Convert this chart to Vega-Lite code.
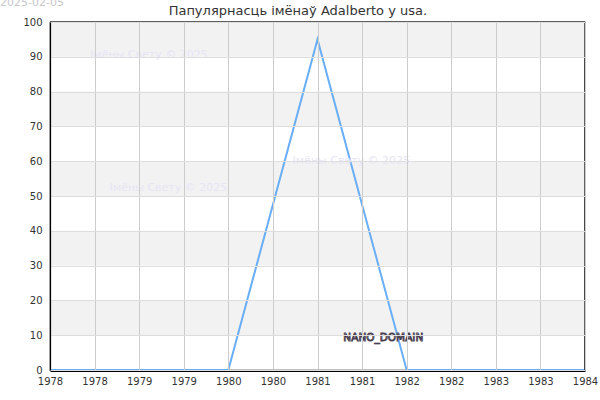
{
  "$schema": "https://vega.github.io/schema/vega-lite/v6.json",
  "width": 535,
  "height": 348,
  "padding": {"left": 50, "top": 22, "right": 15, "bottom": 30},
  "autosize": {"type": "none"},
  "background": "white",
  "config": {
    "font": "DejaVu Sans",
    "view": {"stroke": "black", "strokeWidth": 1.2},
    "axis": {"labelFont": "DejaVu Sans", "labelFontSize": 10, "labelColor": "#333", "ticks": false, "domainColor": "black", "domainWidth": 1.2, "labelOverlap": false, "labelFlush": false}
  },
  "datasets": {
    "series": [
      {"year": 1978, "value": 0},
      {"year": 1979, "value": 0},
      {"year": 1980, "value": 0},
      {"year": 1981, "value": 95},
      {"year": 1982, "value": 0},
      {"year": 1983, "value": 0},
      {"year": 1984, "value": 0}
    ],
    "bands": [
      {"lo": 10, "hi": 20},
      {"lo": 30, "hi": 40},
      {"lo": 50, "hi": 60},
      {"lo": 70, "hi": 80},
      {"lo": 90, "hi": 100}
    ],
    "marks": [
      {"x": 1978.45, "y": 90.5, "label": "Імёны Свету © 2025"},
      {"x": 1980.72, "y": 60.1, "label": "Імёны Свету © 2025"},
      {"x": 1978.67, "y": 52.3, "label": "Імёны Свету © 2025"}
    ]
  },
  "layer": [
    {
      "data": {"name": "bands"},
      "mark": {"type": "rect", "color": "#f2f2f2"},
      "encoding": {
        "y": {
          "field": "lo", "type": "quantitative", "title": null,
          "scale": {"domain": [0, 100]},
          "axis": {"values": [0, 10, 20, 30, 40, 50, 60, 70, 80, 90, 100], "tickCount": 11, "labelOverlap": false, "labelSeparation": 0, "grid": true, "gridColor": "#dddddd", "labelPadding": 8, "domain": true, "zindex": 1}
        },
        "y2": {"field": "hi"}
      }
    },
    {
      "data": {"name": "series"},
      "mark": {"type": "line", "color": "#6aaef5", "strokeWidth": 2},
      "encoding": {
        "x": {
          "field": "year", "type": "quantitative", "title": null,
          "scale": {"domain": [1978, 1984], "nice": false, "zero": false},
          "axis": {
            "values": [1978, 1978.5, 1979, 1979.5, 1980, 1980.5, 1981, 1981.5, 1982, 1982.5, 1983, 1983.5, 1984],
            "labelExpr": "floor(datum.value)",
            "grid": true, "gridColor": "#cccccc", "labelPadding": 5, "offset": 1, "domain": true, "zindex": 1
          }
        },
        "y": {
          "field": "value", "type": "quantitative", "title": null,
          "scale": {"domain": [0, 100]},
          "axis": {"values": [0, 10, 20, 30, 40, 50, 60, 70, 80, 90, 100], "tickCount": 11, "labelOverlap": false, "labelSeparation": 0, "grid": true, "gridColor": "#dddddd", "labelPadding": 8, "domain": true, "zindex": 1}
        }
      }
    },
    {
      "data": {"values": [{"edge": 1984}]},
      "mark": {"type": "rule", "color": "black", "strokeWidth": 1.2},
      "encoding": {"x": {"field": "edge", "type": "quantitative"}}
    },
    {
      "data": {"values": [{"edge": 100}]},
      "mark": {"type": "rule", "color": "black", "strokeWidth": 1.2},
      "encoding": {"y": {"field": "edge", "type": "quantitative"}}
    },
    {
      "data": {"name": "marks"},
      "mark": {"type": "text", "align": "left", "baseline": "middle", "fontSize": 11, "color": "#e6e6f5"},
      "encoding": {
        "x": {"field": "x", "type": "quantitative"},
        "y": {"field": "y", "type": "quantitative"},
        "text": {"field": "label"}
      }
    },
    {
      "data": {"values": [{"x": 1981.29, "y": 9.2, "label": "NANO_DOMAIN"}]},
      "mark": {"type": "text", "align": "left", "baseline": "middle", "fontSize": 10.5, "fill": "#f4f4f4", "stroke": "#4a4050", "strokeWidth": 0.9},
      "encoding": {
        "x": {"field": "x", "type": "quantitative"},
        "y": {"field": "y", "type": "quantitative"},
        "text": {"field": "label"}
      }
    },
    {
      "data": {"values": [{"x": 1977.44, "y": 105.4, "label": "2025-02-05"}]},
      "mark": {"type": "text", "align": "left", "baseline": "middle", "fontSize": 11, "color": "#c8c8c8", "clip": false},
      "encoding": {
        "x": {"field": "x", "type": "quantitative"},
        "y": {"field": "y", "type": "quantitative"},
        "text": {"field": "label"}
      }
    },
    {
      "data": {"values": [{"x": 1980.78, "y": 103.3, "label": "Папулярнасць імёнаў Adalberto у usa."}]},
      "mark": {"type": "text", "align": "center", "baseline": "middle", "fontSize": 13, "color": "#333333", "clip": false},
      "encoding": {
        "x": {"field": "x", "type": "quantitative"},
        "y": {"field": "y", "type": "quantitative"},
        "text": {"field": "label"}
      }
    }
  ]
}
